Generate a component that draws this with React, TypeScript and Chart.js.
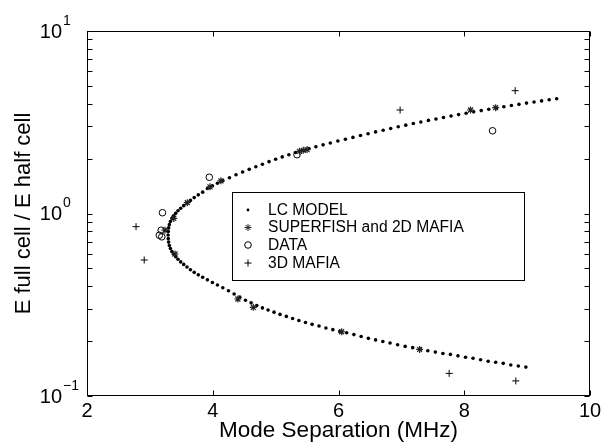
import React, { useEffect, useRef } from 'react';
import { Chart, registerables } from 'chart.js';

Chart.register(...registerables);

// LC model curve (upper branch)
const lcUpperX = [3.290, 3.292, 3.298, 3.310, 3.327, 3.350, 3.378, 3.410, 3.447, 3.490, 3.538, 3.590, 3.645, 3.705, 3.770, 3.840, 3.915, 3.995, 4.075, 4.160,
  4.265, 4.370, 4.475, 4.580, 4.685, 4.790, 4.895, 5.000, 5.105, 5.210, 5.315, 5.420,
  5.530, 5.640, 5.755, 5.870,
  5.99, 6.11, 6.23, 6.35, 6.47, 6.59, 6.71, 6.83, 6.95, 7.07, 7.19, 7.31, 7.43, 7.55, 7.67, 7.79, 7.91, 8.03, 8.15, 8.27, 8.39, 8.51, 8.63, 8.75, 8.87, 8.99, 9.11, 9.23, 9.35, 9.47];
const lcUpperY = [0.762, 0.798, 0.834, 0.869, 0.904, 0.938, 0.971, 1.002, 1.035, 1.069, 1.104, 1.140, 1.180, 1.222, 1.265, 1.309, 1.371, 1.419, 1.466, 1.514,
  1.570, 1.629, 1.687, 1.746, 1.803, 1.862, 1.923, 1.982, 2.042, 2.099, 2.158, 2.213,
  2.270, 2.323, 2.377, 2.432,
  2.495, 2.553, 2.612, 2.673, 2.735, 2.799, 2.858, 2.924, 2.985, 3.048, 3.112, 3.170, 3.236, 3.296, 3.357, 3.420, 3.483, 3.540, 3.606, 3.664, 3.724, 3.784, 3.846, 3.908, 3.963, 4.027, 4.083, 4.140, 4.198, 4.256];

// LC model curve (lower branch)
const lcLowerX = [3.292, 3.298, 3.310, 3.327, 3.350, 3.378, 3.410, 3.447, 3.490, 3.538, 3.590, 3.645, 3.705, 3.770, 3.840, 3.915, 3.995, 4.075, 4.160,
  4.25, 4.34, 4.43, 4.52, 4.61, 4.70, 4.79, 4.88,
  4.975, 5.07, 5.17, 5.27, 5.37, 5.475, 5.58, 5.69, 5.80, 5.91, 6.02, 6.13, 6.245, 6.36, 6.475, 6.59, 6.705, 6.82,
  6.94, 7.06, 7.18, 7.30, 7.42, 7.54, 7.66, 7.78, 7.90, 8.02, 8.14, 8.26, 8.38, 8.50, 8.62, 8.74, 8.86, 8.98];
const lcLowerY = [0.728, 0.697, 0.668, 0.643, 0.619, 0.598, 0.579, 0.561, 0.543, 0.526, 0.509, 0.492, 0.476, 0.461, 0.447, 0.433, 0.419, 0.406, 0.392,
  0.377, 0.362, 0.348, 0.335, 0.324, 0.313, 0.304, 0.296,
  0.288, 0.280, 0.273, 0.266, 0.259, 0.253, 0.247, 0.242, 0.236, 0.231, 0.226, 0.222, 0.217, 0.212, 0.207, 0.203, 0.199, 0.195,
  0.191, 0.187, 0.184, 0.180, 0.177, 0.174, 0.171, 0.169, 0.166, 0.163, 0.161, 0.158, 0.155, 0.153, 0.151, 0.148, 0.146, 0.144];

const superfishX = [3.24, 3.38, 3.595, 3.956, 4.13, 5.38, 5.44, 5.50, 8.10, 8.50, 3.40, 4.40, 4.645, 6.05, 7.29];
const superfishY = [0.81, 0.94, 1.146, 1.40, 1.51, 2.19, 2.22, 2.24, 3.69, 3.80, 0.60, 0.34, 0.306, 0.225, 0.180];

const dataX = [3.20, 3.18, 3.15, 3.19, 3.945, 5.34, 8.45];
const dataY = [1.01, 0.81, 0.76, 0.745, 1.58, 2.10, 2.84];

const mafia3dX = [2.78, 2.91, 6.98, 8.81, 7.76, 8.82];
const mafia3dY = [0.847, 0.556, 3.69, 4.71, 0.133, 0.121];

const seriesLabels = ['LC MODEL', 'SUPERFISH and 2D MAFIA', 'DATA', '3D MAFIA'];

const xTickValues = [2, 4, 6, 8, 10];
const yMajorTicks = [0.1, 1, 10];
const yMajorExponents = ['\u22121', '0', '1'];
const yMinorTicks = [0.2, 0.3, 0.4, 0.5, 0.6, 0.7, 0.8, 0.9, 2, 3, 4, 5, 6, 7, 8, 9];

const FONT = '"Liberation Sans", Arial, Helvetica, sans-serif';

const pts = (xs: number[], ys: number[]) => xs.map((x, i) => ({ x, y: ys[i] }));

function drawMarker(ctx: CanvasRenderingContext2D, kind: number, x: number, y: number) {
  ctx.save();
  ctx.strokeStyle = '#000';
  ctx.fillStyle = '#000';
  ctx.lineWidth = 1;
  const r = 3.5;
  ctx.beginPath();
  if (kind === 0) {
    ctx.arc(x, y, 1.4, 0, Math.PI * 2);
    ctx.fill();
  } else if (kind === 1) {
    ctx.strokeStyle = '#222';
    ctx.moveTo(x - r, y); ctx.lineTo(x + r, y);
    ctx.moveTo(x, y - r); ctx.lineTo(x, y + r);
    const d = r * Math.SQRT1_2;
    ctx.moveTo(x - d, y - d); ctx.lineTo(x + d, y + d);
    ctx.moveTo(x - d, y + d); ctx.lineTo(x + d, y - d);
    ctx.stroke();
  } else if (kind === 2) {
    ctx.arc(x, y, 3.3, 0, Math.PI * 2);
    ctx.stroke();
  } else {
    ctx.moveTo(x - r, y); ctx.lineTo(x + r, y);
    ctx.moveTo(x, y - r); ctx.lineTo(x, y + r);
    ctx.stroke();
  }
  ctx.restore();
}

const framePlugin = {
  id: 'matlabFrame',
  afterDraw(chart: any) {
    const { ctx, chartArea: a, scales } = chart;
    const xs = scales.x;
    const ys = scales.y;
    ctx.save();
    ctx.strokeStyle = '#000';
    ctx.lineWidth = 1;
    const L = Math.round(a.left) + 0.5;
    const R = Math.round(a.right) - 0.5;
    const T = Math.round(a.top) + 0.5;
    const B = Math.round(a.bottom) - 0.5;
    ctx.strokeRect(L, T, R - L, B - T);
    const tl = 5;
    ctx.beginPath();
    for (const v of xTickValues) {
      const px = Math.round(xs.getPixelForValue(v)) + 0.5;
      ctx.moveTo(px, B); ctx.lineTo(px, B - tl);
      ctx.moveTo(px, T); ctx.lineTo(px, T + tl);
    }
    for (const v of [...yMajorTicks, ...yMinorTicks]) {
      const py = Math.round(ys.getPixelForValue(v)) + 0.5;
      ctx.moveTo(L, py); ctx.lineTo(L + tl, py);
      ctx.moveTo(R, py); ctx.lineTo(R - tl, py);
    }
    ctx.stroke();

    // y tick labels as 10^n
    ctx.fillStyle = '#000';
    ctx.textBaseline = 'middle';
    yMajorTicks.forEach((v, i) => {
      const py = ys.getPixelForValue(v);
      ctx.font = `20px ${FONT}`;
      ctx.textAlign = 'right';
      ctx.fillText('10', 62, py + 1);
      ctx.font = `14px ${FONT}`;
      ctx.textAlign = 'left';
      ctx.fillText(yMajorExponents[i], 63, py - 10);
    });

    // legend
    const lx = 232.5, ly = 192.5, lw = 292, lh = 88;
    ctx.fillStyle = '#fff';
    ctx.fillRect(lx, ly, lw, lh);
    ctx.strokeStyle = '#000';
    ctx.lineWidth = 1;
    ctx.strokeRect(lx, ly, lw, lh);
    const rows = [210, 227.5, 245, 263];
    chart.data.datasets.forEach((ds: any, i: number) => {
      drawMarker(ctx, i, 248, rows[i]);
      ctx.fillStyle = '#000';
      ctx.font = `15.6px ${FONT}`;
      ctx.textAlign = 'left';
      ctx.textBaseline = 'middle';
      ctx.fillText(ds.label, 268, rows[i] + 0.5);
    });
    ctx.restore();
  },
};

export default function App() {
  const ref = useRef<HTMLCanvasElement | null>(null);
  useEffect(() => {
    document.body.style.margin = '0';
    const canvas = ref.current;
    if (!canvas) return;
    Chart.defaults.color = '#000';
    const chart = new Chart(canvas, {
      type: 'scatter',
      data: {
        datasets: [
          {
            label: seriesLabels[0],
            data: [...pts(lcUpperX, lcUpperY), ...pts(lcLowerX, lcLowerY)],
            pointStyle: 'circle',
            pointRadius: 1.8,
            pointBackgroundColor: '#000',
            pointBorderWidth: 0,
            showLine: false,
            order: 4,
          },
          {
            label: seriesLabels[1],
            data: pts(superfishX, superfishY),
            pointStyle: 'star',
            pointRadius: 3.5,
            pointBorderColor: '#222',
            pointBorderWidth: 1.2,
            showLine: false,
            order: 1,
          },
          {
            label: seriesLabels[2],
            data: pts(dataX, dataY),
            pointStyle: 'circle',
            pointRadius: 3.3,
            pointBorderColor: '#000',
            pointBackgroundColor: 'rgba(0,0,0,0)',
            pointBorderWidth: 1,
            showLine: false,
            order: 2,
          },
          {
            label: seriesLabels[3],
            data: pts(mafia3dX, mafia3dY),
            pointStyle: 'cross',
            pointRadius: 3.5,
            pointBorderColor: '#000',
            pointBorderWidth: 1,
            showLine: false,
            order: 3,
          },
        ],
      },
      options: {
        animation: false,
        responsive: false,
        events: [],
        layout: { padding: { top: 31, right: 23, left: 0, bottom: 0 } },
        plugins: { legend: { display: false }, tooltip: { enabled: false } },
        scales: {
          x: {
            type: 'linear',
            min: 2,
            max: 10,
            afterBuildTicks: (s: any) => { s.ticks = xTickValues.map((v) => ({ value: v })); },
            afterFit: (s: any) => { s.height = 47; },
            grid: { display: false, drawTicks: false },
            border: { display: false },
            ticks: { font: { family: FONT, size: 20 }, color: '#000', padding: 3, maxRotation: 0 },
            title: {
              display: true,
              text: 'Mode Separation (MHz)',
              color: '#000',
              font: { family: FONT, size: 22.5, lineHeight: 1 },
              padding: { top: 0, bottom: 1 },
            },
          },
          y: {
            type: 'logarithmic',
            min: 0.1,
            max: 10,
            afterFit: (s: any) => { s.width = 87; },
            grid: { display: false, drawTicks: false },
            border: { display: false },
            ticks: { display: false },
            title: {
              display: true,
              text: 'E full cell / E half cell',
              color: '#000',
              font: { family: FONT, size: 22, lineHeight: 1 },
              padding: { top: 13, bottom: 0 },
            },
          },
        },
      },
      plugins: [framePlugin],
    });
    return () => chart.destroy();
  }, []);
  return (
    <div style={{ width: 613, height: 443, background: '#fff' }}>
      <canvas ref={ref} width={613} height={443} style={{ display: 'block' }} />
    </div>
  );
}
